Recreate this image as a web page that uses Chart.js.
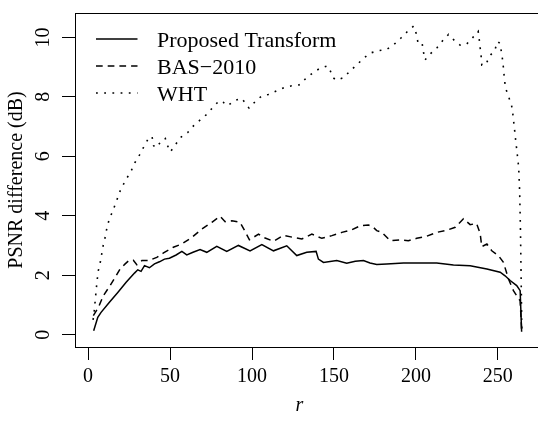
<!DOCTYPE html>
<html>
<head>
<meta charset="utf-8">
<script src="https://cdn.jsdelivr.net/npm/chart.js@4"></script>
<style>
  html, body { margin: 0; padding: 0; background: #fff; overflow: hidden; }
  #wrap { width: 560px; height: 423px; }
</style>
</head>
<body>
<div id="wrap"><canvas id="psnrChart" width="560" height="423"></canvas></div>
<script>
// tick labels
const xTicks = [0, 50, 100, 150, 200, 250];
const yTicks = [0, 2, 4, 6, 8, 10];

// Proposed Transform (solid)
const rProp = [3.4, 5.9, 7.9, 13, 18.1, 23.2, 28.3, 30.3, 32.3, 34.4, 37.4, 40.5, 43.5, 46.6, 49.6, 53.7,
  57.2, 60.2, 64, 68.3, 72.4, 78.5, 84.6, 91.7, 98.8, 106, 113.1, 121.2, 127.3, 133.4, 139.1, 140.5,
  143.6, 151.7, 157.8, 163, 168, 172, 176.1, 182.2, 192.4, 202.6, 212.7, 222.9, 233.1, 243.3, 251.4,
  254.4, 257.5, 261.5, 263.6, 264.5];
const prop = [0.13, 0.58, 0.75, 1.09, 1.42, 1.76, 2.07, 2.18, 2.13, 2.32, 2.25, 2.38, 2.45, 2.54, 2.57, 2.68,
  2.8, 2.68, 2.77, 2.86, 2.77, 2.97, 2.8, 3.0, 2.82, 3.03, 2.82, 2.99, 2.66, 2.77, 2.8, 2.54,
  2.43, 2.49, 2.4, 2.47, 2.49, 2.41, 2.36, 2.38, 2.41, 2.41, 2.41, 2.34, 2.32, 2.21, 2.1,
  1.98, 1.82, 1.65, 1.48, 0.1];

// BAS-2010 (dashed)
const rBas = [3.2, 6.3, 9.3, 13.4, 16.5, 19.5, 22.6, 25, 27.6, 29.7, 32.8, 36.8, 41.9, 46, 52, 57.2, 63.3,
  69.4, 75.5, 80.5, 83.6, 87.7, 92.7, 95.8, 98.4, 104, 108, 113.1, 119.2, 125.3, 130.4, 136.5, 142.6,
  148.7, 154.8, 160.9, 166, 171, 174, 176.1, 179.2, 184.3, 190.4, 195.4, 200.5, 206.6, 212.7, 218.8,
  224, 229, 233.1, 237, 239.2, 240.2, 243.3, 246.3, 250.3, 253.4, 256.5, 259.5, 261.5, 263.6, 264.6];
const bas = [0.64, 0.92, 1.31, 1.65, 1.93, 2.21, 2.38, 2.5, 2.5, 2.35, 2.49, 2.49, 2.6, 2.75, 2.94, 3.05, 3.27,
  3.55, 3.78, 3.98, 3.8, 3.83, 3.78, 3.47, 3.19, 3.38, 3.25, 3.14, 3.34, 3.27, 3.22, 3.38, 3.24,
  3.33, 3.44, 3.53, 3.66, 3.69, 3.61, 3.5, 3.44, 3.16, 3.19, 3.16, 3.24, 3.31, 3.44, 3.51,
  3.61, 3.9, 3.7, 3.74, 3.4, 2.96, 3.05, 2.82, 2.66, 2.43, 1.87, 1.48, 1.31, 1.14, 0.05];

// WHT (dotted)
const rWht = [3, 3.5, 4, 4.5, 5, 5.5, 6, 7.5, 9, 10.5, 11.5, 13, 15, 17, 20, 23.6, 26.2, 28.7, 31.3, 34,
  36.6, 39, 40, 41.7, 44.7, 47.1, 48.2, 50.2, 53.2, 56.3, 60.8, 64.4, 68.5, 72.6, 76, 80, 82.3, 85.2,
  89.2, 93.7, 98.2, 101.8, 105.9, 110, 115, 119.5, 124.2, 128.7, 132.9, 137.4, 141.5, 145.9, 147.6,
  149.2, 151.6, 156.1, 159.8, 163.8, 167.9, 172, 177, 182, 186.6, 190.7, 194.5, 198.6, 200.2, 201.2,
  203.7, 204.5, 205.5, 209.1, 213, 216.5, 219.9, 223.4, 227, 230.7, 234.3, 238, 238.6, 239.2, 239.8,
  240.2, 242.7, 244.7, 248.2, 249.8, 251.2, 252.2, 253, 253.5, 254, 254.7, 256.4, 258.3, 259.1,
  259.7, 260.3, 260.9, 261.5, 262.1, 262.7, 263.3, 263.8, 264.3, 264.6];
const wht = [0.5, 0.65, 0.95, 1.25, 1.55, 1.8, 2.1, 2.45, 2.95, 3.3, 3.6, 3.9, 4.15, 4.45, 4.9, 5.26, 5.5, 5.8, 6.04, 6.32,
  6.58, 6.67, 6.35, 6.29, 6.52, 6.6, 6.39, 6.15, 6.38, 6.63, 6.8, 7.03, 7.23, 7.42, 7.64, 7.87, 7.82, 7.7,
  7.87, 7.95, 7.62, 7.83, 8.03, 8.08, 8.2, 8.31, 8.37, 8.4, 8.62, 8.82, 8.96, 9.04, 8.9,
  8.65, 8.56, 8.65, 8.87, 9.07, 9.29, 9.47, 9.55, 9.59, 9.76, 9.97, 10.18, 10.38, 10.13, 9.84,
  9.84, 9.54, 9.24, 9.46, 9.66, 9.9, 10.1, 9.9, 9.74, 9.76, 9.97, 10.2, 9.95, 9.65, 9.36,
  9.07, 9.08, 9.35, 9.58, 9.86, 9.8, 9.5, 9.2, 8.91, 8.6, 8.3, 8.02, 7.74, 7.44,
  7.14, 6.84, 6.52, 6.24, 5.93, 5.63, 4.8, 3.5, 1.5, 0.1];

const serif = 'Liberation Serif';
Chart.defaults.font.family = serif;
Chart.defaults.color = '#000';

function pts(xs, ys) {
  return xs.map((x, i) => ({ x: x, y: ys[i] }));
}

// top edge of the plot box (left/bottom come from the axes, right side is cut off)
const frame = {
  id: 'frame',
  afterDraw(chart) {
    const { ctx, chartArea: a } = chart;
    ctx.save();
    ctx.strokeStyle = '#000';
    ctx.lineWidth = 1;
    ctx.beginPath();
    ctx.moveTo(Math.round(a.left), Math.round(a.top) + 0.5);
    ctx.lineTo(chart.width, Math.round(a.top) + 0.5);
    ctx.stroke();
    ctx.restore();
  }
};

// R style legend: line sample then label, no box
const lineLegend = {
  id: 'lineLegend',
  afterDraw(chart) {
    const { ctx, chartArea: a } = chart;
    ctx.save();
    ctx.font = '22px "' + serif + '"';
    ctx.fillStyle = '#000';
    ctx.textBaseline = 'alphabetic';
    chart.data.datasets.forEach((ds, i) => {
      const base = a.top + 33.7 + i * 27;
      ctx.strokeStyle = ds.borderColor;
      ctx.lineWidth = ds.borderWidth;
      ctx.setLineDash(ds.borderDash || []);
      ctx.beginPath();
      ctx.moveTo(a.left + 21, base - 7.7);
      ctx.lineTo(a.left + 62.5, base - 7.7);
      ctx.stroke();
      ctx.fillText(ds.label, a.left + 82, base);
    });
    ctx.restore();
  }
};

const axisGrid = { drawOnChartArea: false, drawTicks: true, tickLength: 13, color: '#000', lineWidth: 1 };
const axisBorder = { display: true, color: '#000', width: 1 };

new Chart(document.getElementById('psnrChart'), {
  type: 'line',
  data: {
    datasets: [
      { label: 'Proposed Transform', data: pts(rProp, prop), borderColor: '#000', borderWidth: 1.5,
        pointRadius: 0, tension: 0, fill: false },
      { label: 'BAS\u22122010', data: pts(rBas, bas), borderColor: '#000', borderWidth: 1.5,
        borderDash: [6.7, 5], pointRadius: 0, tension: 0, fill: false },
      { label: 'WHT', data: pts(rWht, wht), borderColor: '#000', borderWidth: 1.6,
        borderDash: [1.8, 6.4], pointRadius: 0, tension: 0, fill: false }
    ]
  },
  options: {
    responsive: false,
    animation: false,
    // plot region runs past the right edge of the window, as in the original crop
    layout: { padding: { top: 13, right: 11, bottom: 0, left: 0 } },
    plugins: { legend: { display: false }, tooltip: { enabled: false } },
    scales: {
      x: {
        type: 'linear',
        min: -8,
        max: 281.2,
        afterBuildTicks: s => { s.ticks = xTicks.map(v => ({ value: v })); },
        afterFit: s => { s.height = 76; s.paddingLeft = 0; s.paddingRight = 0; },
        grid: axisGrid,
        border: axisBorder,
        ticks: { color: '#000', font: { size: 20 }, padding: 5, maxRotation: 0, autoSkip: false },
        // x label sits a little left of the clipped region's centre
        title: { display: true, text: 'r     ', color: '#000', font: { size: 20, style: 'italic' },
          padding: { top: 0, bottom: 5 } }
      },
      y: {
        type: 'linear',
        min: -0.416,
        max: 10.82,
        afterBuildTicks: s => { s.ticks = yTicks.map(v => ({ value: v })); },
        afterFit: s => { s.width = 75; s.paddingTop = 0; s.paddingBottom = 0; },
        grid: axisGrid,
        border: axisBorder,
        ticks: { color: '#000', font: { size: 20 }, padding: 8, minRotation: 90, maxRotation: 90,
          crossAlign: 'center', autoSkip: false },
        title: { display: true, text: 'PSNR difference (dB)', color: '#000', font: { size: 20 },
          padding: { top: 5, bottom: 0 } }
      }
    }
  },
  plugins: [frame, lineLegend]
});
</script>
</body>
</html>
